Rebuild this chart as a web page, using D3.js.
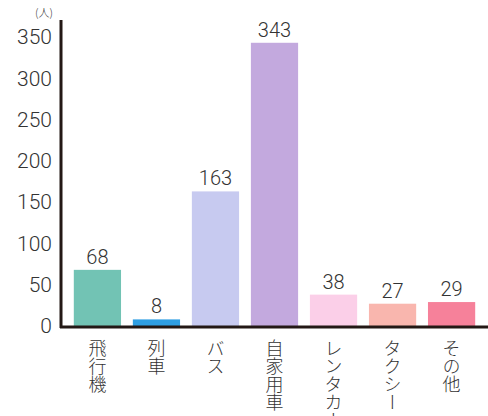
<!DOCTYPE html>
<html>
<head>
<meta charset="utf-8">
<script src="https://cdn.jsdelivr.net/npm/d3@7"></script>
<style>
  body { margin: 0; background: #fff; }
  svg text { font-family: "Noto Sans CJK JP", "Noto Sans", sans-serif; }
</style>
</head>
<body>
<script>
// 交通手段別の人数
var categories = ["飛行機", "列車", "バス", "自家用車", "レンタカー", "タクシー", "その他"]
var values = [68, 8, 163, 343, 38, 27, 29]
var barColors = ["#72c3b4", "#2f9fe3", "#c7caf0", "#c3a9de", "#fbcfe8", "#f9b6ae", "#f6819a"]
var yTicks = [0, 50, 100, 150, 200, 250, 300, 350]

var width = 488, height = 416

var svg = d3.select("body").append("svg")
    .attr("width", width)
    .attr("height", height)

var x = d3.scaleBand()
    .domain(categories)
    .range([62, 487])
    .paddingInner(0.2)
    .paddingOuter(0.2)

var y = d3.scaleLinear()
    .domain([0, 350])
    .range([326, 37])

// bars
svg.selectAll(".bar")
    .data(values)
    .enter().append("rect")
    .attr("class", "bar")
    .attr("x", function(d, i) { return x(categories[i]) })
    .attr("y", function(d) { return y(d) })
    .attr("width", x.bandwidth())
    .attr("height", function(d) { return y(0) - y(d) })
    .attr("fill", function(d, i) { return barColors[i] })

// value labels
svg.selectAll(".val")
    .data(values)
    .enter().append("text")
    .attr("class", "val")
    .attr("x", function(d, i) { return x(categories[i]) + x.bandwidth() / 2 })
    .attr("y", function(d) { return y(d) - 6 })
    .attr("text-anchor", "middle")
    .style("font-family", "Roboto, sans-serif")
    .style("font-weight", 300)
    .style("font-size", "20px")
    .style("fill", "#333")
    .text(function(d) { return d })

// y axis
var yAxis = svg.append("g")
    .attr("transform", "translate(61,0)")
    .call(d3.axisLeft(y).tickValues(yTicks).tickSize(0).tickPadding(9))
yAxis.select(".domain").remove()
yAxis.selectAll("text")
    .style("font-family", "Roboto, sans-serif")
    .style("font-weight", 300)
    .style("font-size", "21px")
    .style("fill", "#333")

svg.append("line")
    .attr("x1", 61).attr("x2", 61)
    .attr("y1", 20).attr("y2", 328)
    .attr("stroke", "#231815")
    .attr("stroke-width", 3)

// x axis
svg.append("line")
    .attr("x1", 60).attr("x2", 488)
    .attr("y1", y(0) + 1).attr("y2", y(0) + 1)
    .attr("stroke", "#231815")
    .attr("stroke-width", 3)

// unit
svg.append("text")
    .attr("x", 44)
    .attr("y", 17)
    .attr("text-anchor", "middle")
    .style("font-size", "11px")
    .style("font-weight", 300)
    .style("fill", "#333")
    .text("(人)")

// category labels (vertical)
svg.selectAll(".cat")
    .data(categories)
    .enter().append("text")
    .attr("class", "cat")
    .attr("x", function(d) { return x(d) + x.bandwidth() / 2 })
    .attr("y", 339)
    .style("writing-mode", "vertical-rl")
    .style("font-size", "18px")
    .style("font-weight", 300)
    .style("fill", "#333")
    .text(function(d) { return d })
</script>
</body>
</html>
